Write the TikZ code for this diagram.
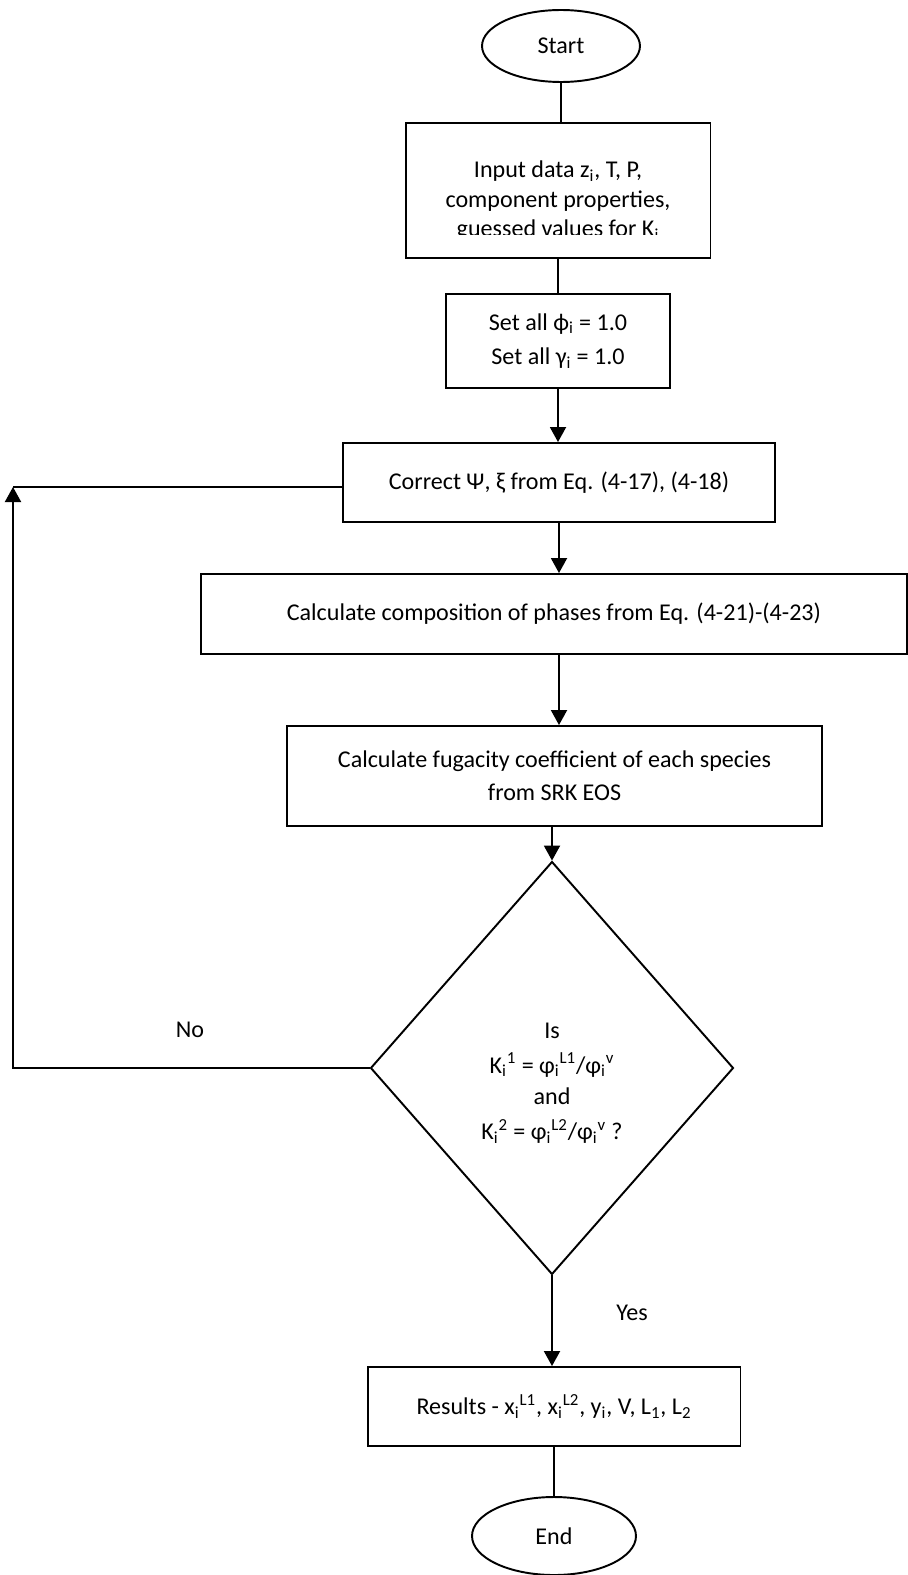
\documentclass[tikz,border=0pt]{standalone}
\usepackage{fontspec}
\setmainfont{Carlito}
\usetikzlibrary{shapes.geometric,arrows.meta}

\begin{document}
\begin{tikzpicture}[x=0.02cm,y=-0.02cm,line width=1.1pt,
    font=\fontsize{13.7}{16.8}\selectfont,
    term/.style={draw,ellipse,inner sep=0pt},
    proc/.style={draw,rectangle,inner sep=0pt,align=center},
    decide/.style={draw,diamond,inner sep=0pt,align=center},
    arr/.style={-{Triangle[length=0.3cm,width=0.32cm]}}]
\useasboundingbox (0,0) rectangle (908,1575);

\node[term,minimum width=3.16cm,minimum height=1.44cm] (start) at (561,46) {Start};
\node[proc,minimum width=6.1cm,minimum height=2.7cm] (input) at (558,190.5) {};
\begin{scope}
    \clip (405,123) rectangle (710,234);
    \node[align=center] (inputtxt) at (558,201) {Input data z\textsubscript{i}, T, P,\\component properties,\\guessed values for K\textsubscript{i}};
\end{scope}
\node[proc,minimum width=4.48cm,minimum height=1.88cm] (set) at (558,341) {Set all ϕ\textsubscript{i} = 1.0\\[3pt]Set all γ\textsubscript{i} = 1.0};
\node[proc,minimum width=8.64cm,minimum height=1.58cm] (correct) at (559,482.5) {Correct Ψ, ξ from Eq. (4-17), (4-18)};
\node[proc,minimum width=14.12cm,minimum height=1.6cm] (comp) at (554,614) {Calculate composition of phases from Eq. (4-21)-(4-23)};
\node[proc,minimum width=10.7cm,minimum height=2.0cm] (fug) at (554.5,776) {Calculate fugacity coefficient of each species\\[2pt]from SRK EOS};
\node[decide,minimum width=7.26cm,minimum height=8.26cm] (dec) at (552,1068) {};
\node[align=center] (dectxt) at (552,1083) {Is\\[3pt]K\textsubscript{i}\textsuperscript{1} = φ\textsubscript{i}\textsuperscript{L1}/φ\textsubscript{i}\textsuperscript{v}\\[1pt]and\\[3pt]K\textsubscript{i}\textsuperscript{2} = φ\textsubscript{i}\textsuperscript{L2}/φ\textsubscript{i}\textsuperscript{v} ?};
\node[proc,minimum width=7.46cm,minimum height=1.58cm] (res) at (554,1406.5) {Results - x\textsubscript{i}\textsuperscript{L1}, x\textsubscript{i}\textsuperscript{L2}, y\textsubscript{i}, V, L\textsubscript{1}, L\textsubscript{2}};
\node[term,minimum width=3.28cm,minimum height=1.56cm] (end) at (554,1536) {End};
\node (no) at (190,1030) {No};
\node (yes) at (632,1313) {Yes};

\coordinate (back) at (13,487);

\draw (start.south) -- (start.south |- input.north);
\draw (input.south) -- (input.south |- set.north);
\draw[arr] (set.south) -- (set.south |- correct.north);
\draw[arr] (correct.south) -- (correct.south |- comp.north);
\draw[arr] (correct.south |- comp.south) -- (correct.south |- fug.north);
\draw[arr] (dec.north |- fug.south) -- (dec.north);
\draw[arr] (dec.south) -- (dec.south |- res.north);
\draw (res.south) -- (res.south |- end.north);
\draw[arr] (dec.west) -| (back);
\draw (back) -- (back -| correct.west);
\end{tikzpicture}
\end{document}
